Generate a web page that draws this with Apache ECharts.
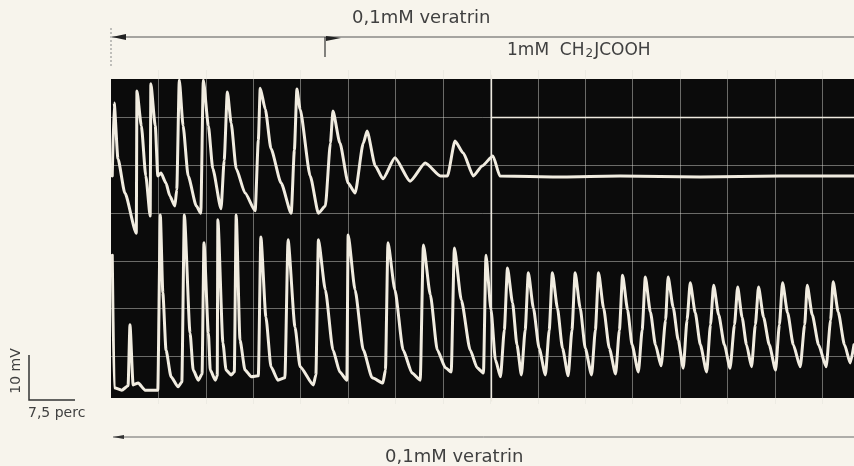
<!DOCTYPE html>
<html>
<head>
<meta charset="utf-8">
<script src="https://cdn.jsdelivr.net/npm/echarts@6/dist/echarts.min.js"></script>
<style>
html,body{margin:0;padding:0;background:#f7f4ec;}
#c{width:854px;height:466px;}
</style>
</head>
<body>
<div id="c"></div>
<script>
// Time axis in minutes (1 division = 7.5 perc), amplitude in mV (1 division = 10 mV)
var timeTicks = { min: 0, max: 117.5, step: 7.5 };
var mvTicks = { min: 0, max: 70, step: 10 };

// Upper trace
var topTime = [0.2,0.5,1.1,2.2,4.0,4.1,4.8,5.5,6.2,6.3,7.0,7.4,7.9,8.7,9.3,10.1,10.4,10.8,11.4,12.2,13.5,14.2,14.6,15.4,16.1,17.4,17.9,18.4,19.0,19.8,21.2,22.8,23.3,23.6,24.4,25.3,26.9,28.5,29.0,29.4,29.9,31.5,32.8,33.9,34.7,35.1,36.2,37.5,38.6,39.9,40.5,41.8,43.0,44.9,47.3,49.7,52.1,53.2,54.4,55.7,57.3,58.7,60.4,61.5,71.0,80.5,93.2,105.8,117.5];
var topMv   = [47.8,63.1,51.4,44.2,35.8,65.6,58.3,47.8,39.4,67.1,58.3,47.8,48.4,46.3,43.6,41.5,44.9,67.9,58.3,47.8,41.5,40.0,67.9,58.3,49.3,40.9,51.1,65.4,58.9,49.3,44.2,40.5,55.3,66.2,61.8,53.5,46.3,40.0,53.2,66.0,61.8,47.8,40.0,41.5,54.7,61.4,54.7,46.3,44.2,54.7,57.2,49.9,47.2,51.6,46.7,50.5,47.8,47.8,55.1,52.6,47.8,49.9,52.0,47.8,47.6,47.8,47.6,47.8,47.8];

// Lower trace
var bottomTime = [0.2,0.5,1.7,2.7,3.0,3.5,4.3,5.4,7.4,
  7.8,8.2,8.7,9.5,10.6,11.2,
  11.6,12.5,13.0,13.8,14.4,
  14.7,15.4,15.7,16.5,16.8,
  16.9,17.7,18.2,19.0,19.5,
  19.8,20.4,21.2,22.2,23.3,
  23.7,24.5,25.3,26.4,27.5,
  28.0,29.1,29.9,32.0,32.4,
  32.8,33.9,35.1,36.2,37.3,
  37.5,38.6,39.9,41.3,43.0,43.4,
  43.8,44.9,46.2,47.6,48.9,
  49.4,50.5,51.6,52.9,53.8,
  54.3,55.4,56.8,57.9,58.9,
  59.3,60.1,60.8,61.6,62.2,
  62.7,63.5,64.2,64.9,65.5,
  66.0,66.8,67.7,68.7,69.3,
  69.8,70.6,71.4,72.3,72.9,
  73.4,74.2,75.0,76.0,76.6,
  77.1,77.9,78.8,79.8,80.4,
  80.9,81.7,82.4,83.4,84.0,
  84.5,85.3,86.1,87.0,87.7,
  88.1,88.9,89.7,90.5,91.1,
  91.6,92.4,93.2,94.2,94.8,
  95.3,96.1,97.0,97.9,98.6,
  99.1,99.8,100.5,101.3,101.9,
  102.4,103.2,104.1,105.1,105.7,
  106.2,107.0,107.9,109.0,109.7,
  110.1,110.9,111.9,113.1,113.8,
  114.2,115.0,116.0,116.9,117.5];
var bottomMv = [31.2,3.4,2.9,3.8,16.6,4.0,4.4,2.9,2.9,
  39.6,23.3,11.3,5.7,3.6,4.6,
  39.6,14.9,7.1,5.0,6.3,
  33.8,14.9,7.1,5.0,5.9,
  38.6,12.8,7.1,6.1,6.7,
  39.6,13.4,7.1,5.7,5.9,
  35.0,18.2,7.8,5.0,5.5,
  34.4,16.1,7.8,4.0,6.1,
  34.4,23.9,11.3,6.7,5.0,
  35.4,23.9,11.3,5.5,4.4,7.1,
  33.8,23.9,11.3,6.5,5.0,
  33.3,22.9,11.3,7.6,6.7,
  32.7,21.8,11.3,7.6,6.5,
  31.2,19.7,9.2,5.7,15.5,
  28.5,21.2,12.4,6.1,15.5,
  27.5,20.1,11.7,6.1,15.5,
  27.5,20.1,11.7,5.9,15.5,
  27.5,20.1,11.7,6.1,15.5,
  27.5,20.1,11.7,6.3,15.5,
  27.0,19.7,12.4,6.7,15.5,
  26.6,19.3,12.4,8.0,17.6,
  26.6,20.3,13.4,7.5,17.6,
  25.4,19.1,12.4,6.7,16.6,
  24.9,18.7,12.4,7.5,16.6,
  24.5,18.2,12.4,7.8,16.6,
  24.5,18.2,12.4,7.1,16.6,
  25.4,19.1,12.4,7.8,16.6,
  24.9,18.7,12.4,7.8,17.6,
  25.6,19.3,12.4,8.6,12.4];

// Markers: start of CH2JCOOH effect on screen and reference level
var markerTime = 60.1;
var referenceMv = 60;

function pairs(xs, ys){ var out=[]; for(var i=0;i<xs.length;i++){ out.push([xs[i], ys[i]]); } return out; }

var chart = echarts.init(document.getElementById('c'), null, {renderer:'canvas'});
var traceColor = '#f1ece0';
var gridColor = 'rgba(225,225,218,0.45)';
var ink = '#404040';
var font = 'DejaVu Sans';

chart.setOption({
  backgroundColor: '#f7f4ec',
  animation: false,
  grid: { left: 111, top: 70, width: 743, height: 334, containLabel: false },
  xAxis: {
    type: 'value', min: timeTicks.min, max: timeTicks.max, interval: timeTicks.step,
    axisLine: {show:false}, axisTick: {show:false}, axisLabel: {show:false},
    splitLine: { show: true, showMinLine: false, showMaxLine: false, lineStyle: { color: gridColor, width: 1 } }
  },
  yAxis: {
    type: 'value', min: mvTicks.min, max: mvTicks.max, interval: mvTicks.step,
    axisLine: {show:false}, axisTick: {show:false}, axisLabel: {show:false},
    splitLine: { show: true, showMinLine: false, showMaxLine: false, lineStyle: { color: gridColor, width: 1 } }
  },
  graphic: [
    { type: 'rect', z: -10, silent: true, shape: { x: 111, y: 79, width: 743, height: 319 }, style: { fill: '#0b0b0b' } },
    // top annotation
    { type: 'line', silent: true, shape: { x1: 112, y1: 37, x2: 854, y2: 37 }, style: { stroke: '#555', lineWidth: 1 } },
    { type: 'polygon', silent: true, shape: { points: [[112,37],[126,34],[126,40]] }, style: { fill: '#222' } },
    { type: 'line', silent: true, shape: { x1: 111, y1: 28, x2: 111, y2: 68 }, style: { stroke: '#888', lineWidth: 1, lineDash: [2,2] } },
    { type: 'line', silent: true, shape: { x1: 325, y1: 37, x2: 325, y2: 57 }, style: { stroke: '#333', lineWidth: 1.2 } },
    { type: 'polygon', silent: true, shape: { points: [[326,36],[341,38],[326,41]] }, style: { fill: '#222' } },
    { type: 'text', silent: true, x: 352, y: 9, style: { text: '0,1mM veratrin', fontFamily: font, fontSize: 18, fill: ink } },
    { type: 'text', silent: true, x: 507, y: 41, style: {
        text: '1mM  CH{s|2}JCOOH', fontFamily: font, fontSize: 17, fill: ink,
        rich: { s: { fontFamily: font, fontSize: 12, fill: ink, padding: [7, 1, 0, 1] } } } },
    // bottom annotation
    { type: 'line', silent: true, shape: { x1: 113, y1: 437, x2: 854, y2: 437 }, style: { stroke: '#666', lineWidth: 1 } },
    { type: 'polygon', silent: true, shape: { points: [[113,437],[124,435],[124,439]] }, style: { fill: '#333' } },
    { type: 'text', silent: true, x: 385, y: 448, style: { text: '0,1mM veratrin', fontFamily: font, fontSize: 18, fill: ink } },
    // scale bar
    { type: 'polyline', silent: true, shape: { points: [[29,355],[29,400],[75,400]] }, style: { stroke: '#333', lineWidth: 1.5, fill: null } },
    { type: 'text', silent: true, x: 16, y: 371, rotation: Math.PI/2, style: { text: '10 mV', fontFamily: font, fontSize: 14, fill: ink, align: 'center', verticalAlign: 'middle' } },
    { type: 'text', silent: true, x: 28, y: 406, style: { text: '7,5 perc', fontFamily: font, fontSize: 14, fill: ink } }
  ],
  series: [
    {
      type: 'line', name: 'upper', data: pairs(topTime, topMv), symbol: 'none',
      smooth: 0.2, smoothMonotone: 'x',
      lineStyle: { color: traceColor, width: 3, join: 'round', cap: 'round' },
      markLine: {
        silent: true, symbol: 'none', label: { show: false }, animation: false,
        data: [
          [{ coord: [markerTime, 0.5] }, { coord: [markerTime, 69] }],
          [{ coord: [markerTime, referenceMv] }, { coord: [timeTicks.max, referenceMv] }]
        ],
        lineStyle: { color: '#eeeae0', width: 1.3, type: 'solid' }
      }
    },
    {
      type: 'line', name: 'lower', data: pairs(bottomTime, bottomMv), symbol: 'none',
      smooth: 0.2, smoothMonotone: 'x',
      lineStyle: { color: traceColor, width: 3, join: 'round', cap: 'round' }
    }
  ]
});
</script>
</body>
</html>
